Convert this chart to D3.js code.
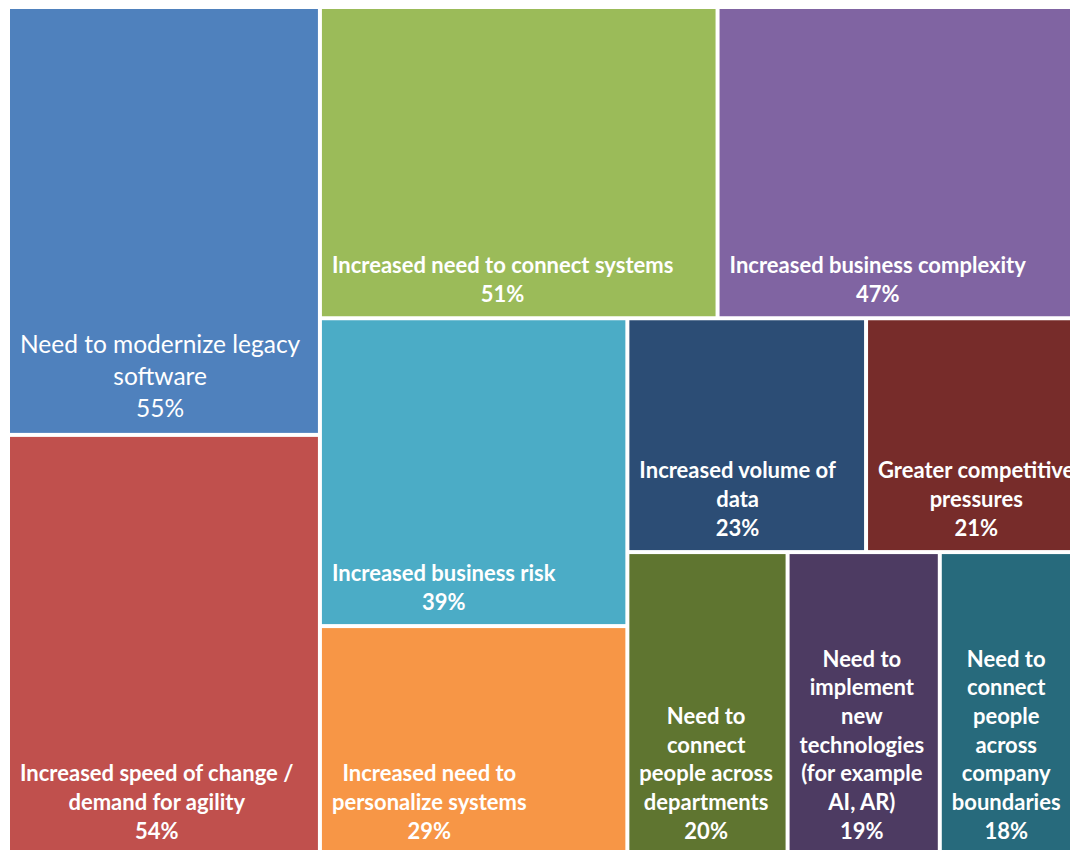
<head>
    <script src="https://d3js.org/d3.v7.min.js"></script>
    <style>
        body { margin: 0; background: white; }
        svg text { fill: white; font-family: Lato, "Noto Sans", sans-serif; }
    </style>
</head>

<body>
        <svg id="plot" height="850" width="1070"></svg>
        <script>
            //data
            const categories = [
                "Need to modernize legacy\nsoftware",
                "Increased speed of change /\ndemand for agility",
                "Increased need to connect systems",
                "Increased business complexity",
                "Increased business risk",
                "Increased need to\npersonalize systems",
                "Increased volume of\ndata",
                "Greater competitive\npressures",
                "Need to\nconnect\npeople across\ndepartments",
                "Need to\nimplement\nnew\ntechnologies\n(for example\nAI, AR)",
                "Need to\nconnect\npeople\nacross\ncompany\nboundaries"
            ];
            const values = [55, 54, 51, 47, 39, 29, 23, 21, 20, 19, 18];
            const colors = ["#4F81BD", "#C0504D", "#9BBB59", "#8064A2", "#4BACC6", "#F79646",
                            "#2C4D75", "#772C2A", "#5F7530", "#4D3B62", "#276A7C"];
            //strips of the squarified layout (indexes), outer to inner
            const strips = [[0, 1], [2, 3], [4, 5], [6, 7], [8, 9, 10]];

            //chart setup
            const svg = d3.select("svg#plot");
            const margin = {top: 9, left: 10};
            const chartWidth = 1072;
            const chartHeight = 844;

            //nest the strips so slice/dice alternates like the squarified result
            const leaf = i => ({name: categories[i], value: values[i], color: colors[i]});
            let node = {children: strips[strips.length - 1].map(leaf)};
            for (let s = strips.length - 2; s >= 0; s--) {
                node = {children: [{children: strips[s].map(leaf)}, node]};
            }

            const root = d3.hierarchy(node).sum(d => d.value || 0);
            d3.treemap()
                .tile(d3.treemapSliceDice)
                .size([chartWidth, chartHeight])
                .paddingInner(4)(root);

            const g = svg.append("g").attr("transform", `translate(${margin.left},${margin.top})`);

            const cells = g.selectAll("g.cell")
                .data(root.leaves())
                .enter()
                .append("g")
                .attr("class", "cell");

            cells.append("rect")
                .attr("x", d => d.x0)
                .attr("y", d => d.y0)
                .attr("width", d => d.x1 - d.x0)
                .attr("height", d => d.y1 - d.y0)
                .attr("fill", d => d.data.color);

            //labels: lines centred on each other, block anchored bottom-left
            cells.each(function(d, i) {
                const first = i === 0;
                const size = first ? 24.5 : 22;
                const lineH = first ? 32 : 28.7;
                const lines = d.data.name.split("\n").concat([d.data.value + "%"]);
                const t = d3.select(this).append("text")
                    .attr("font-size", size)
                    .attr("font-weight", first ? 400 : 700)
                    .attr("text-anchor", "middle");
                const spans = lines.map((l, k) => t.append("tspan")
                    .attr("y", d.y1 - (first ? 24 : 22) - (lines.length - 1 - k) * lineH)
                    .attr("dy", "0.35em")
                    .text(l));
                const w = d3.max(spans, s => s.node().getComputedTextLength());
                spans.forEach(s => s.attr("x", d.x0 + 10 + w / 2));
            });
        </script>
</body>
